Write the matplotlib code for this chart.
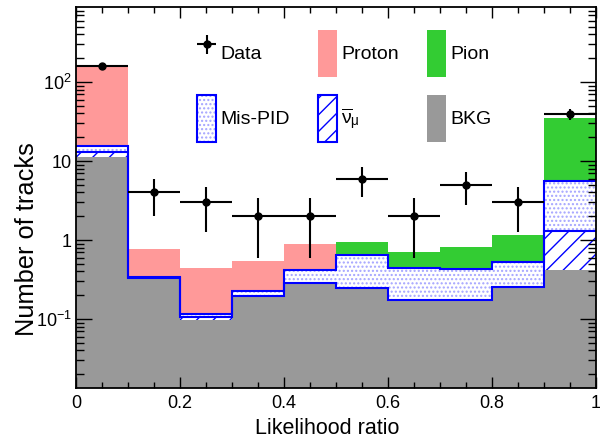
import numpy as np
import matplotlib
matplotlib.use("Agg")
import matplotlib.pyplot as plt
from matplotlib.ticker import FixedLocator, MultipleLocator, FuncFormatter, NullFormatter
from matplotlib.patches import Patch

plt.rcParams["font.family"] = ["Liberation Sans", "DejaVu Sans"]
plt.rcParams["mathtext.fontset"] = "custom"
plt.rcParams["mathtext.rm"] = "Liberation Sans"
plt.rcParams["mathtext.it"] = "Liberation Sans"
plt.rcParams["mathtext.default"] = "regular"
plt.rcParams["hatch.linewidth"] = 1.0

# bin edges of the likelihood ratio
edges = [0.0, 0.1, 0.2, 0.3, 0.4, 0.5, 0.6, 0.7, 0.8, 0.9, 1.0]

# stacked MC components (bottom -> top)
bkg = [11.1, 0.32, 0.097, 0.19, 0.285, 0.245, 0.166, 0.166, 0.245, 0.417]
numu = [2.0, 0.005, 0.008, 0.005, 0.004, 0.004, 0.008, 0.008, 0.007, 0.87]
mispid = [2.5, 0.012, 0.01, 0.03, 0.124, 0.397, 0.264, 0.256, 0.28, 4.35]
pion = [0, 0, 0, 0, 0, 0.29, 0.27, 0.38, 0.63, 29.7]
proton = [140, 0.43, 0.325, 0.316, 0.477, 0, 0, 0, 0, 0]

# observed tracks
data = [158, 4, 3, 2, 2, 6, 2, 5, 3, 39]

edges = np.array(edges)
centers = 0.5 * (edges[1:] + edges[:-1])
halfw = 0.5 * np.diff(edges)

fig = plt.figure(figsize=(6, 4.41), dpi=100)
ax = fig.add_axes([76 / 600, 1 - 388 / 441, 520 / 600, 381 / 441])
ax.set_yscale("log")

dotcol = "#a4a4ff"
blue = "#0000ff"

base = np.full(len(bkg), 1e-3)
tops = {}
for name, vals in [("bkg", bkg), ("numu", numu), ("mispid", mispid),
                   ("pion", pion), ("proton", proton)]:
    top = base + np.array(vals)
    if name == "bkg":
        ax.stairs(top, edges, baseline=base, fill=True, facecolor="#999999",
                  edgecolor="none", lw=0)
    elif name == "numu":
        ax.stairs(top, edges, baseline=base, fill=True, facecolor="white",
                  edgecolor=blue, hatch="//", lw=0)
    elif name == "mispid":
        ax.stairs(top, edges, baseline=base, fill=True, facecolor="white",
                  edgecolor=dotcol, hatch="....", lw=0)
    elif name == "pion":
        ax.stairs(top, edges, baseline=base, fill=True, facecolor="#33cc33",
                  edgecolor="none", lw=0)
    else:
        ax.stairs(top, edges, baseline=base, fill=True, facecolor="#ff9999",
                  edgecolor="none", lw=0)
    tops[name] = top
    base = top

# blue outlines of the neutrino and mis-PID histograms
ax.stairs(tops["numu"], edges, baseline=None, color=blue, lw=1.5)
ax.stairs(tops["mispid"], edges, baseline=None, color=blue, lw=1.5)

data = np.array(data, dtype=float)
hdata = ax.errorbar(centers, data, xerr=halfw, yerr=np.sqrt(data), fmt="o",
                    color="black", ms=5, lw=1.5, capsize=0, zorder=5)

ax.set_xlim(0, 1)
ax.set_ylim(0.0134, 890)

ax.xaxis.set_major_locator(MultipleLocator(0.2))
ax.xaxis.set_minor_locator(MultipleLocator(0.05))
ax.xaxis.set_major_formatter(FuncFormatter(lambda v, p: "%g" % round(v, 2)))

ylabs = {0.1: "10$^{-1}$", 1.0: "1", 10.0: "10", 100.0: "10$^{2}$"}
ax.yaxis.set_major_locator(FixedLocator(list(ylabs.keys())))
ax.yaxis.set_major_formatter(FuncFormatter(lambda v, p: ylabs.get(round(v, 3), "")))
minors = [m * 10.0 ** e for e in range(-2, 3) for m in range(2, 10)]
ax.yaxis.set_minor_locator(FixedLocator(minors))
ax.yaxis.set_minor_formatter(NullFormatter())

ax.tick_params(which="both", direction="in", top=True, right=True, color="black")
ax.tick_params(axis="y", which="major", length=11.5, width=1, pad=3, labelsize=13)
ax.tick_params(axis="y", which="minor", length=5.8, width=1)
ax.tick_params(axis="x", which="major", length=8, width=1, pad=5, labelsize=13)
ax.tick_params(axis="x", which="minor", length=4.3, width=1)
for s in ax.spines.values():
    s.set_linewidth(1.3)

ax.set_xlabel("Likelihood ratio", fontsize=15.5)
ax.xaxis.set_label_coords(0.483, -0.078)
ax.set_ylabel("Number of tracks", fontsize=18.3)
ax.yaxis.set_label_coords(-0.071, 0.392)

h_mis = (Patch(facecolor="white", edgecolor=dotcol, hatch="....", lw=0),
         Patch(facecolor="none", edgecolor=blue, lw=1.5))
h_nu = (Patch(facecolor="white", edgecolor=blue, hatch="//", lw=0),
        Patch(facecolor="none", edgecolor=blue, lw=1.5))
h_pro = Patch(facecolor="#ff9999", edgecolor="none")
h_pi = Patch(facecolor="#33cc33", edgecolor="none")
h_bkg = Patch(facecolor="#999999", edgecolor="none")

ax.legend([hdata, h_mis, h_pro, h_nu, h_pi, h_bkg],
          ["Data", "Mis-PID", "Proton", r"$\overline{\nu}_{\mu}$", "Pion", "BKG"],
          ncol=3, loc="upper left", bbox_to_anchor=(197 / 600, 1 - 30 / 441),
          bbox_transform=fig.transFigure, frameon=False, fontsize=14,
          borderpad=0, borderaxespad=0, handlelength=1.0, handleheight=3.32,
          handletextpad=0.19, columnspacing=1.45, labelspacing=0.96)

fig.savefig("out.png", dpi=100)
